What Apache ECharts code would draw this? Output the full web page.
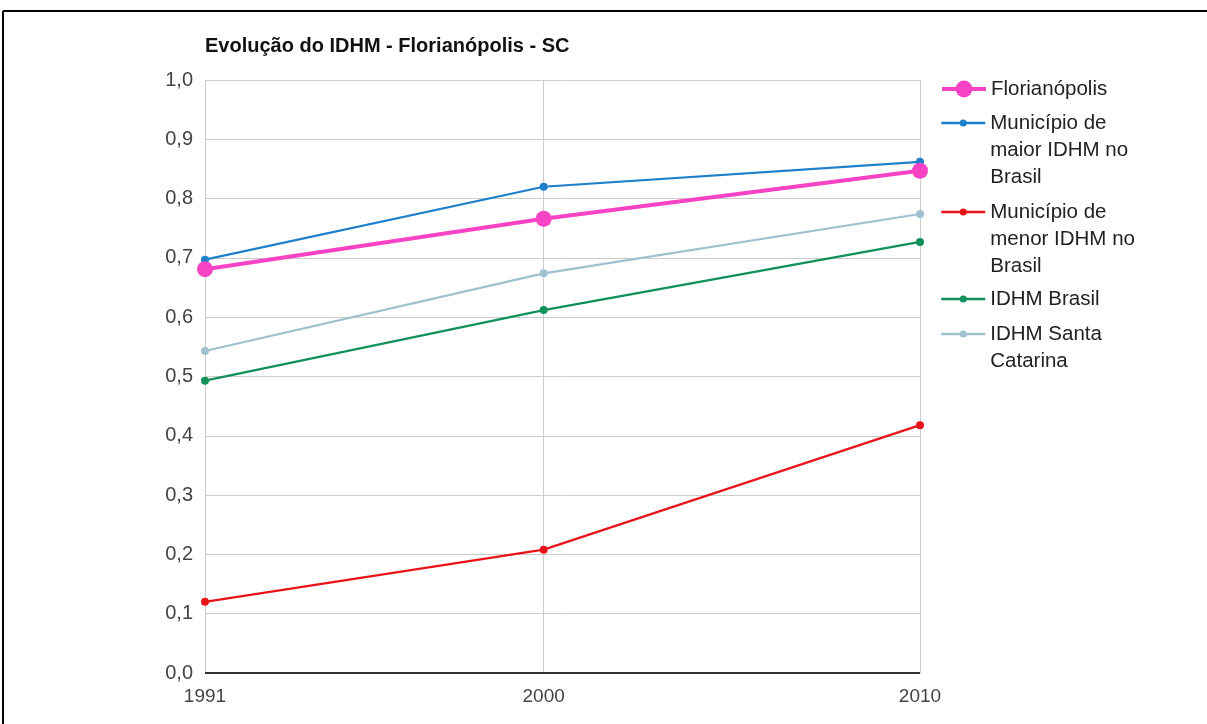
<!DOCTYPE html>
<html>
<head>
<meta charset="utf-8">
<script src="https://cdn.jsdelivr.net/npm/echarts@6/dist/echarts.min.js"></script>
<style>
html,body{margin:0;padding:0;background:#fff;}
#chart{width:1207px;height:724px;}
</style>
</head>
<body>
<div id="chart"></div>
<script>
const title = 'Evolução do IDHM - Florianópolis - SC';
const years = [1991, 2000, 2010];
const yTicks = [0, 0.1, 0.2, 0.3, 0.4, 0.5, 0.6, 0.7, 0.8, 0.9, 1.0];
const seriesNames = ['Florianópolis', 'Município de\nmaior IDHM no\nBrasil', 'Município de\nmenor IDHM no\nBrasil', 'IDHM Brasil', 'IDHM Santa\nCatarina'];
const florianopolis = [0.681, 0.766, 0.847];
const maiorIdhm = [0.697, 0.820, 0.862];
const menorIdhm = [0.120, 0.208, 0.418];
const idhmBrasil = [0.493, 0.612, 0.727];
const idhmSC = [0.543, 0.674, 0.774];
const colors = ['#f844c4', '#1e7fcb', '#e8141a', '#12905a', '#9fc0cf'];

const valuesList = [florianopolis, maiorIdhm, menorIdhm, idhmBrasil, idhmSC];
const FONT = 'Liberation Sans, Arial, sans-serif';
const LH = 27;
// y of first text line centre for each legend entry
const legendIconY = [89, 123, 212, 299, 334];

const chart = echarts.init(document.getElementById('chart'), null, {renderer: 'canvas'});
const series = valuesList.map((vals, i) => ({
  name: seriesNames[i],
  type: 'line',
  data: years.map((y, j) => [y, vals[j]]),
  symbol: 'circle',
  symbolSize: i === 0 ? 16 : 8,
  lineStyle: {width: i === 0 ? 4 : 2.2, color: colors[i]},
  itemStyle: {color: colors[i]},
  z: 10 - i
}));

const legends = seriesNames.map((n, i) => {
  const lines = n.split('\n').length;
  const itemH = i === 0 ? 21 : 9;
  const blockH = Math.max(itemH, (2 * lines - 1) * LH);
  return {
    orient: 'vertical',
    left: 940,
    top: legendIconY[i] - blockH / 2,
    padding: 0,
    itemWidth: 44, itemHeight: itemH,
    data: [{name: n, itemStyle: {color: colors[i]}}],
    selectedMode: false,
    lineStyle: {width: i === 0 ? 4 : 2.5},
    formatter: name => '\n'.repeat(lines - 1) + name,
    textStyle: {fontFamily: FONT, fontSize: 20.5, color: '#222', lineHeight: LH}
  };
});

chart.setOption({
  animation: false,
  backgroundColor: '#fff',
  title: {
    text: title,
    left: 200, top: 31,
    textStyle: {fontFamily: FONT, fontSize: 20, fontWeight: 'bold', color: '#111'}
  },
  graphic: [
    {type: 'line', shape: {x1: 3, y1: 11, x2: 1207, y2: 11}, style: {stroke: '#000', lineWidth: 2}},
    {type: 'line', shape: {x1: 3, y1: 11, x2: 3, y2: 724}, style: {stroke: '#000', lineWidth: 2}}
  ],
  legend: legends,
  grid: {left: 205, right: 287, top: 80, bottom: 51, containLabel: false},
  xAxis: {
    type: 'value', min: 1991, max: 2010,
    axisLine: {show: false},
    axisTick: {show: false, customValues: years},
    axisLabel: {customValues: years, fontFamily: FONT, fontSize: 19, color: '#444', margin: 14,
      formatter: v => String(v)},
    splitLine: {show: true, lineStyle: {color: '#cccccc', width: 1}}
  },
  yAxis: {
    type: 'value', min: 0, max: 1, interval: 0.1,
    axisLine: {show: false},
    axisTick: {show: false},
    axisLabel: {fontFamily: FONT, fontSize: 20, color: '#444', margin: 12,
      formatter: v => v.toFixed(1).replace('.', ',')},
    splitLine: {show: true, lineStyle: {color: '#cccccc', width: 1}}
  },
  series: series.concat([{
    type: 'line', silent: true, data: [],
    markLine: {silent: true, symbol: 'none', label: {show: false},
      lineStyle: {color: '#333', width: 2, type: 'solid'},
      data: [{yAxis: 0}]}
  }])
});
</script>
</body>
</html>
